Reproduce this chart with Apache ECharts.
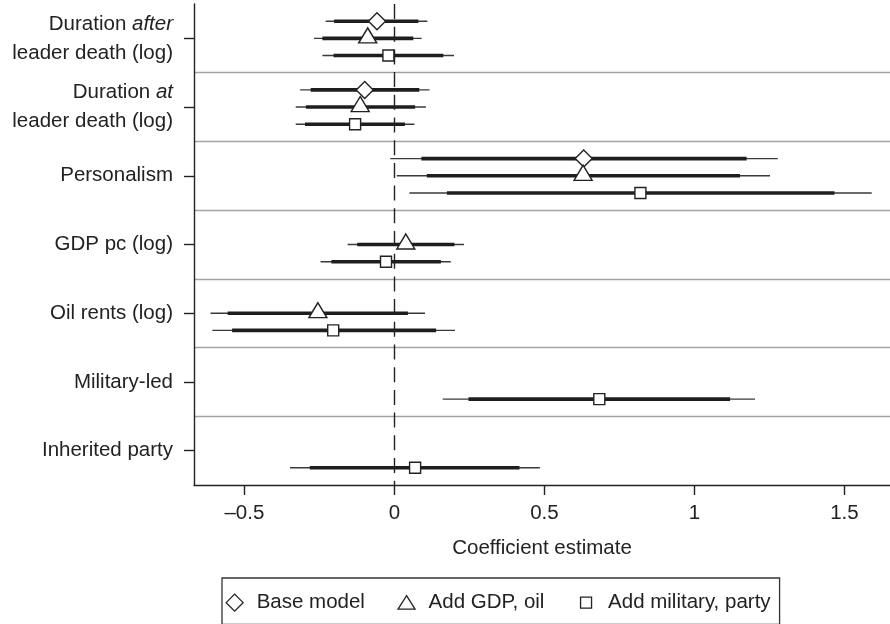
<!DOCTYPE html>
<html>
<head>
<meta charset="utf-8">
<script src="https://cdn.jsdelivr.net/npm/echarts@6/dist/echarts.min.js"></script>
<style>
  html, body { margin: 0; padding: 0; background: #fff; }
  #chart { width: 890px; height: 624px; }
</style>
</head>
<body>
<div id="chart"></div>
<script>
// Predictor labels, top to bottom ({i|...} marks italic words)
const categories = [
  'Duration {i|after}\nleader death (log)',
  'Duration {i|at}\nleader death (log)',
  'Personalism',
  'GDP pc (log)',
  'Oil rents (log)',
  'Military-led',
  'Inherited party'
];
const models = ['Base model', 'Add GDP, oil', 'Add military, party'];
const xTicks = [-0.5, 0, 0.5, 1, 1.5];

// Base model: point estimate, 95% interval, 90% interval
const baseEst  = [-0.058, -0.099, 0.631, null, null, null, null];
const baseLo95 = [-0.229, -0.314, -0.014, null, null, null, null];
const baseHi95 = [0.110, 0.117, 1.278, null, null, null, null];
const baseLo90 = [-0.201, -0.279, 0.090, null, null, null, null];
const baseHi90 = [0.080, 0.083, 1.174, null, null, null, null];

// Add GDP, oil
const gdpEst  = [-0.089, -0.114, 0.629, 0.038, -0.255, null, null];
const gdpLo95 = [-0.268, -0.329, 0.008, -0.156, -0.613, null, null];
const gdpHi95 = [0.091, 0.105, 1.252, 0.232, 0.102, null, null];
const gdpLo90 = [-0.240, -0.295, 0.108, -0.124, -0.556, null, null];
const gdpHi90 = [0.063, 0.069, 1.152, 0.200, 0.045, null, null];

// Add military, party
const milEst  = [-0.020, -0.131, 0.820, -0.028, -0.204, 0.683, 0.069];
const milLo95 = [-0.240, -0.329, 0.050, -0.246, -0.607, 0.161, -0.348];
const milHi95 = [0.199, 0.067, 1.591, 0.188, 0.202, 1.202, 0.485];
const milLo90 = [-0.203, -0.298, 0.175, -0.210, -0.541, 0.247, -0.282];
const milHi90 = [0.163, 0.035, 1.467, 0.155, 0.139, 1.119, 0.417];

const FONT = '"Liberation Sans", Arial, Helvetica, sans-serif';
const INK = '#222';
const rowOffset = [-0.25, 0, 0.25];

const modelData = [
  { est: baseEst, lo95: baseLo95, hi95: baseHi95, lo90: baseLo90, hi90: baseHi90,
    symbol: 'diamond', size: [17, 17], offset: [0, 0],
    icon: 'path://M0,0M20,20M10,1.5L18.5,10L10,18.5L1.5,10Z' },
  { est: gdpEst, lo95: gdpLo95, hi95: gdpHi95, lo90: gdpLo90, hi90: gdpHi90,
    symbol: 'triangle', size: [18, 15], offset: [0, -3],
    icon: 'path://M0,0M20,20M10,3L18.5,16.5L1.5,16.5Z' },
  { est: milEst, lo95: milLo95, hi95: milHi95, lo90: milLo90, hi90: milHi90,
    symbol: 'rect', size: [11, 11], offset: [0, 0],
    icon: 'path://M0,0M20,20M4.5,4.5L15.5,4.5L15.5,15.5L4.5,15.5Z' }
];

function renderCI(params, api) {
  const y = api.value(4);
  const a = api.coord([api.value(0), y]);
  const b = api.coord([api.value(1), y]);
  const c = api.coord([api.value(2), y]);
  const d = api.coord([api.value(3), y]);
  return {
    type: 'group',
    children: [
      { type: 'line', shape: { x1: a[0], y1: a[1], x2: b[0], y2: b[1] },
        style: { stroke: '#3a3a3a', lineWidth: 1.4 } },
      { type: 'line', shape: { x1: c[0], y1: c[1], x2: d[0], y2: d[1] },
        style: { stroke: '#1e1e1e', lineWidth: 3.6 } }
    ]
  };
}

const series = [];
modelData.forEach((m, k) => {
  const ci = [];
  const pts = [];
  m.est.forEach((v, i) => {
    if (v === null) return;
    const y = i + 0.5 + rowOffset[k];
    ci.push([m.lo95[i], m.hi95[i], m.lo90[i], m.hi90[i], y]);
    pts.push([v, y]);
  });
  series.push({
    name: models[k] + ' CI',
    type: 'custom',
    xAxisIndex: 0,
    yAxisIndex: 1,
    renderItem: renderCI,
    encode: { x: [0, 1, 2, 3], y: 4 },
    data: ci,
    z: 2,
    silent: true
  });
  series.push({
    name: models[k],
    type: 'scatter',
    xAxisIndex: 0,
    yAxisIndex: 1,
    symbol: m.symbol,
    symbolSize: m.size,
    symbolOffset: m.offset,
    itemStyle: { color: '#fff', borderColor: INK, borderWidth: 1.4, opacity: 1 },
    data: pts,
    z: 4,
    silent: true,
    markLine: k === 0 ? {
      silent: true,
      symbol: 'none',
      label: { show: false },
      lineStyle: { type: [15, 7.7], color: INK, width: 1.4 },
      data: [{ xAxis: 0 }]
    } : undefined
  });
});

const chart = echarts.init(document.getElementById('chart'), null, { renderer: 'canvas' });
chart.setOption({
  animation: false,
  backgroundColor: '#fff',
  textStyle: { fontFamily: FONT },
  grid: { left: 194, top: 4, width: 696, height: 481, containLabel: false },
  xAxis: {
    type: 'value',
    min: -0.668,
    max: 1.652,
    name: 'Coefficient estimate',
    nameLocation: 'middle',
    nameGap: 53,
    nameTextStyle: { fontSize: 20.5, color: INK, fontFamily: FONT },
    axisLine: { show: true, onZero: false, lineStyle: { color: INK, width: 1.4 } },
    axisTick: { show: true, length: 10, customValues: xTicks, lineStyle: { color: INK, width: 1.4 } },
    axisLabel: {
      customValues: xTicks,
      margin: 18,
      fontSize: 20.5,
      color: INK,
      fontFamily: FONT,
      formatter: v => (v < 0 ? '\u2013' + Math.abs(v) : String(v))
    },
    splitLine: { show: false }
  },
  yAxis: [
    {
      type: 'category',
      data: categories,
      inverse: true,
      boundaryGap: true,
      position: 'left',
      axisLine: { show: true, onZero: false, lineStyle: { color: INK, width: 1.4 } },
      axisTick: { show: true, alignWithLabel: true, length: 10, lineStyle: { color: INK, width: 1.4 } },
      axisLabel: {
        margin: 21,
        fontSize: 20.5,
        lineHeight: 29,
        color: INK,
        fontFamily: FONT,
        align: 'right',
        rich: {
          i: { fontStyle: 'italic', fontSize: 20.5, lineHeight: 29, color: INK, fontFamily: FONT }
        }
      },
      splitLine: { show: false }
    },
    {
      type: 'value',
      min: 0,
      max: 7,
      interval: 1,
      inverse: true,
      show: true,
      axisLine: { show: false, onZero: false },
      axisTick: { show: false },
      axisLabel: { show: false },
      splitLine: {
        show: true,
        showMinLine: false,
        showMaxLine: false,
        lineStyle: { color: '#a3a3a3', width: 1.3 }
      }
    }
  ],
  legend: {
    left: 222,
    top: 578,
    orient: 'horizontal',
    padding: [14, 9, 11, 2],
    itemGap: 31,
    itemWidth: 34,
    itemHeight: 20,
    borderColor: '#333',
    borderWidth: 1.3,
    selectedMode: false,
    itemStyle: { color: '#fff', borderColor: INK, borderWidth: 1.3 },
    textStyle: { fontSize: 20.5, color: INK, fontFamily: FONT },
    data: models.map((name, k) => ({ name: name, icon: modelData[k].icon }))
  },
  series: series
});
</script>
</body>
</html>
